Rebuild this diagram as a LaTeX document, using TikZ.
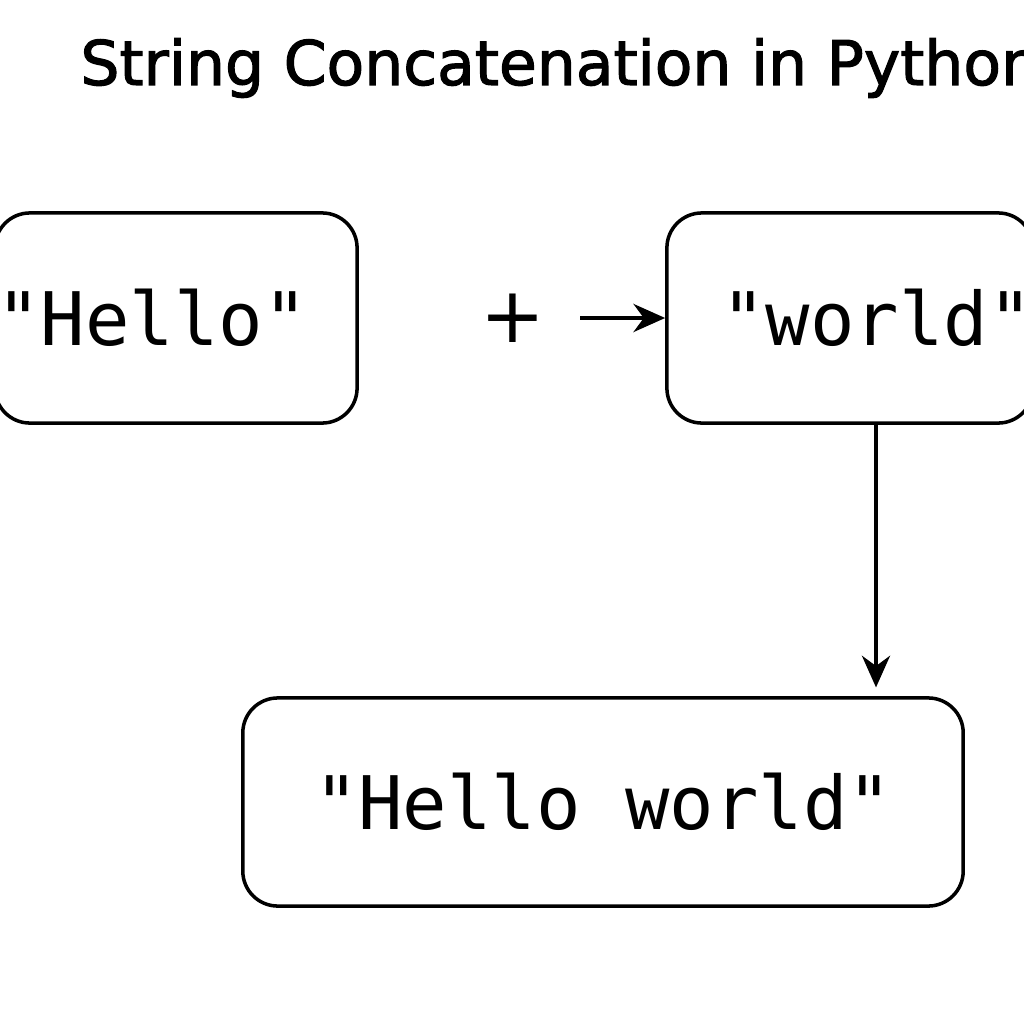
\documentclass[tikz,border=0pt]{standalone}
\usepackage{fontspec}
\setmainfont{DejaVu Sans}
\newfontfamily\titlefont[FakeBold=1.8]{DejaVu Sans}
\setmonofont{DejaVu Sans Mono}
\usetikzlibrary{arrows.meta,calc}
\begin{document}
\begin{tikzpicture}[x=0.01cm,y=-0.01cm,
  strbox/.style={draw,line width=1pt,rounded corners=0.35cm,inner sep=0pt,font=\ttfamily\fontsize{21}{24}\selectfont},
  conn/.style={line width=1pt,-{Stealth[length=9pt,width=8pt]}}]
\useasboundingbox (0,0) rectangle (1024,1024);
\clip (0,0) rectangle (1024,1024);
\node[font=\titlefont\fontsize{17.5}{20}\selectfont,anchor=west] (title) at (68,68) {String Concatenation in Python};
\node[strbox,minimum width=3.62cm,minimum height=2.10cm] (hello) at (176,318) {};
\node[font=\ttfamily\fontsize{21}{24}\selectfont] (hellot) at (152,318) {"Hello"};
\node[strbox,minimum width=3.66cm,minimum height=2.10cm] (world) at (850,318) {};
\node[font=\ttfamily\fontsize{21}{24}\selectfont] (worldt) at (877,318) {"world"};
\node[strbox,minimum width=7.20cm,minimum height=2.08cm] (res) at (603,802) {"Hello world"};
\node[font=\fontsize{22}{24}\selectfont] (plus) at (513,318) {+};
\coordinate (hs) at (580,318);
\draw[conn] (hs) -- (world.west);
\coordinate (vs) at ($(world.south)+(26,0)$);
\draw[conn,shorten >=2.5pt] (vs) -- (vs |- res.north);
\end{tikzpicture}
\end{document}
